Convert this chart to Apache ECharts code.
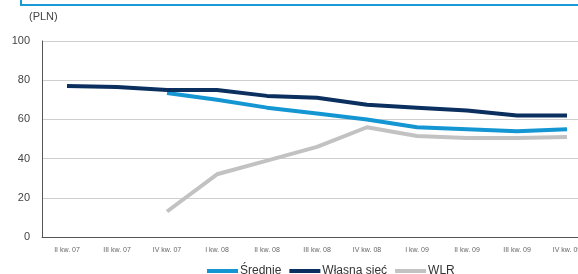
<!DOCTYPE html>
<html>
<head>
<meta charset="utf-8">
<script src="https://cdn.jsdelivr.net/npm/echarts@6/dist/echarts.min.js"></script>
<style>
  html, body { margin: 0; padding: 0; background: #fff; overflow: hidden; }
  /* wykres jest szerszy niż okno - prawa krawędź przycięta jak w oryginale */
  #chart { width: 592px; height: 274px; }
</style>
</head>
<body>
<div id="chart"></div>
<script>
// kwartały
const categories = ['II kw. 07', 'III kw. 07', 'IV kw. 07', 'I kw. 08', 'II kw. 08', 'III kw. 08',
  'IV kw. 08', 'I kw. 09', 'II kw. 09', 'III kw. 09', 'IV kw. 09']
const srednie = [null, null, 73.5, 70, 66, 63, 60, 56, 55, 54, 55]
const wlasnaSiec = [77, 76.5, 75, 75, 72, 71, 67.5, 66, 64.5, 62, 62]
const wlr = [null, null, 13, 32, 39, 46, 56, 51.5, 50.5, 50.5, 51]
const yTicks = { min: 0, max: 100, interval: 20 }

let chart = echarts.init(document.getElementById('chart'))

let lineSeries = (name, data, color) => ({
  name: name,
  type: 'line',
  data: data,
  showSymbol: false,
  symbol: 'none',
  lineStyle: { color: color, width: 4 },
  itemStyle: { color: color },
})

chart.setOption({
  animation: false,
  textStyle: { fontFamily: 'Liberation Sans, Arial, sans-serif' },
  graphic: [
    // niebieska ramka u góry (resztka pola nad wykresem)
    {
      type: 'polyline',
      shape: { points: [[21, 0], [21, 5], [600, 5]] },
      style: { stroke: '#1a9bd7', lineWidth: 2, fill: null },
    },
    {
      type: 'text',
      left: 29,
      top: 11,
      style: { text: '(PLN)', fill: '#444', fontSize: 11, fontFamily: 'Liberation Sans, Arial, sans-serif' },
    },
  ],
  grid: { left: 42, right: 0, top: 41, bottom: 37, containLabel: false },
  legend: {
    left: 202,
    top: 260,
    itemWidth: 31,
    itemHeight: 4,
    itemGap: 8,
    icon: 'rect',
    textStyle: { color: '#333', fontSize: 12, padding: [0, 0, 0, -3] },
    data: ['Średnie', 'Własna sieć', 'WLR'],
  },
  xAxis: {
    type: 'category',
    data: categories,
    boundaryGap: true,
    axisLine: { lineStyle: { color: '#555', width: 1 } },
    axisTick: { show: false },
    axisLabel: { color: '#666', fontSize: 7, margin: 10, interval: 0 },
  },
  yAxis: {
    type: 'value',
    min: yTicks.min,
    max: yTicks.max,
    interval: yTicks.interval,
    axisLine: { show: true, lineStyle: { color: '#555', width: 1 } },
    axisTick: { show: false },
    axisLabel: { color: '#444', fontSize: 11, margin: 12 },
    splitLine: { lineStyle: { color: '#cfcfcf', width: 1 } },
  },
  series: [
    lineSeries('Średnie', srednie, '#1496d3'),
    lineSeries('Własna sieć', wlasnaSiec, '#0b2f5e'),
    lineSeries('WLR', wlr, '#c2c2c2'),
  ],
})
</script>
</body>
</html>
